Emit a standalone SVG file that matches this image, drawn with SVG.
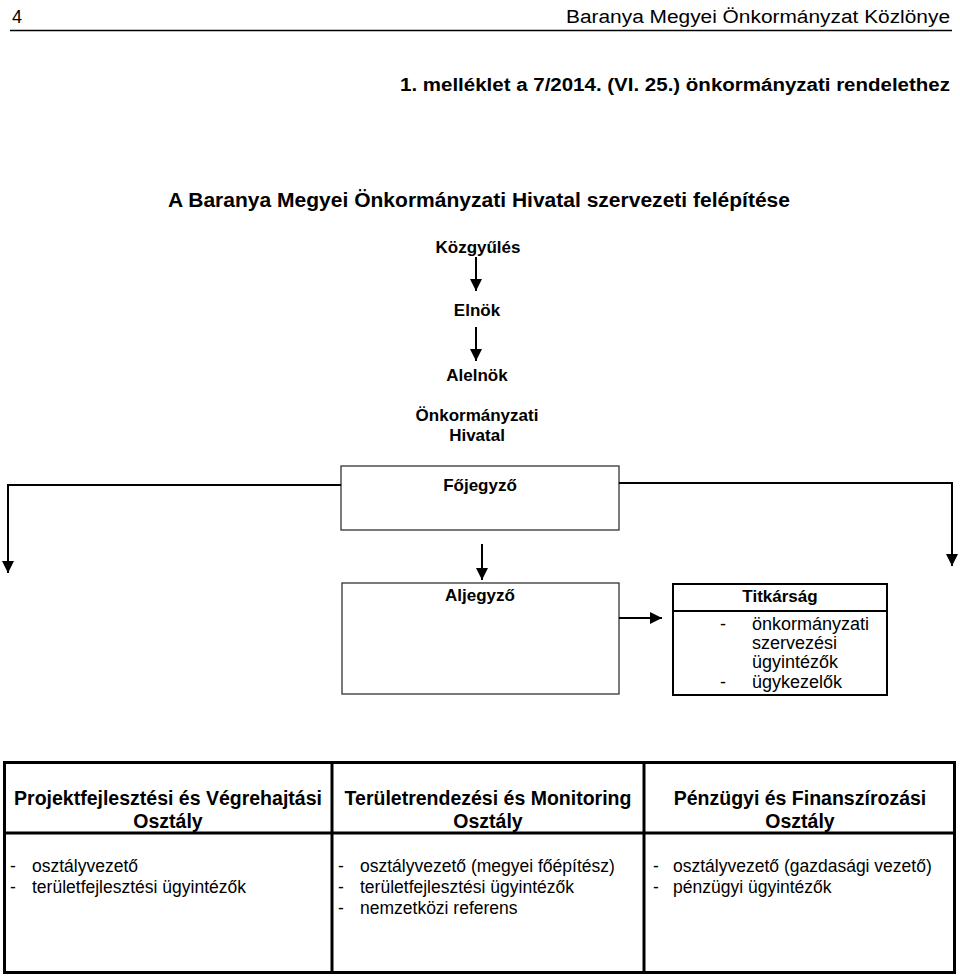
<svg xmlns="http://www.w3.org/2000/svg" width="960" height="979" viewBox="0 0 960 979">
<style>
text{font-family:"Liberation Sans",Arial,sans-serif;fill:#000}
.b{font-weight:bold;font-size:17px}
.r{font-size:17px}
.h{font-weight:bold;font-size:19.5px}
.t{font-size:17.5px}
.c{text-anchor:middle}
.box{fill:#fff;stroke:#333;stroke-width:1.3}
.tbox{fill:#fff;stroke:#000;stroke-width:2}
.tab{fill:none;stroke:#000;stroke-width:3}
.con{fill:none;stroke:#000;stroke-width:2;marker-end:url(#ah)}
</style>
<defs>
<marker id="ah" markerUnits="userSpaceOnUse" viewBox="0 0 10 10" refX="10" refY="5" markerWidth="13" markerHeight="12" orient="auto">
<path d="M0,0 L10,5 L0,10 z" fill="#000"/>
</marker>
</defs>
<rect width="960" height="979" fill="#fff"/>
<g id="header">
<text x="12" y="23" class="r" style="font-size:18px">4</text>
<text x="950" y="23" class="r" text-anchor="end" textLength="384" lengthAdjust="spacingAndGlyphs" style="font-size:18px">Baranya Megyei Önkormányzat Közlönye</text>
<line x1="10" y1="30.5" x2="952" y2="30.5" stroke="#000" stroke-width="1.6"/>
<text x="950" y="91" class="b" text-anchor="end" textLength="550" lengthAdjust="spacingAndGlyphs" style="font-size:18px">1. melléklet a 7/2014. (VI. 25.) önkormányzati rendelethez</text>
<text x="479" y="207" class="b c" textLength="622" lengthAdjust="spacingAndGlyphs" style="font-size:20px">A Baranya Megyei Önkormányzati Hivatal szervezeti felépítése</text>
</g>
<g id="kozgyules"><text x="478" y="253" class="b c">Közgyűlés</text></g>
<g id="elnok"><text x="477" y="316" class="b c">Elnök</text></g>
<g id="alelnok"><text x="477" y="381" class="b c">Alelnök</text></g>
<g id="hivatal"><text x="477" y="421" class="b c">Önkormányzati</text><text x="477" y="441" class="b c">Hivatal</text></g>
<g id="fojegyzo">
<rect x="341" y="466" width="278" height="64" class="box"/>
<text x="480" y="491" class="b c">Főjegyző</text>
</g>
<g id="aljegyzo">
<rect x="342" y="583" width="277" height="111" class="box"/>
<text x="480" y="601" class="b c">Aljegyző</text>
</g>
<g id="titkarsag">
<rect x="673" y="584" width="214" height="111" class="tbox"/>
<line x1="673" y1="611" x2="887" y2="611" stroke="#000" stroke-width="2"/>
<text x="780" y="602" class="b c">Titkárság</text>
<text x="720" y="630" class="r" style="font-size:18px">-</text>
<text x="752" y="630" class="r" style="font-size:18px">önkormányzati</text>
<text x="752" y="649" class="r" style="font-size:18px">szervezési</text>
<text x="752" y="668" class="r" style="font-size:18px">ügyintézők</text>
<text x="720" y="688" class="r" style="font-size:18px">-</text>
<text x="752" y="688" class="r" style="font-size:18px">ügykezelők</text>
</g>
<g id="osztalyok">
<rect x="4.5" y="762.5" width="950" height="210" class="tab"/>
<line x1="4.5" y1="833" x2="954.5" y2="833" stroke="#000" stroke-width="3"/>
<line x1="332" y1="762.5" x2="332" y2="972.5" stroke="#000" stroke-width="3"/>
<line x1="644" y1="762.5" x2="644" y2="972.5" stroke="#000" stroke-width="3"/>
<g id="projekt">
<text x="168" y="805" class="h c">Projektfejlesztési és Végrehajtási</text>
<text x="168" y="828" class="h c">Osztály</text>
<text x="10" y="872" class="t">-</text><text x="32" y="872" class="t">osztályvezető</text>
<text x="10" y="893" class="t">-</text><text x="32" y="893" class="t">területfejlesztési ügyintézők</text>
</g>
<g id="terulet">
<text x="488" y="805" class="h c">Területrendezési és Monitoring</text>
<text x="488" y="828" class="h c">Osztály</text>
<text x="338" y="872" class="t">-</text><text x="360" y="872" class="t">osztályvezető (megyei főépítész)</text>
<text x="338" y="893" class="t">-</text><text x="360" y="893" class="t">területfejlesztési ügyintézők</text>
<text x="338" y="914" class="t">-</text><text x="360" y="914" class="t">nemzetközi referens</text>
</g>
<g id="penzugy">
<text x="800" y="805" class="h c">Pénzügyi és Finanszírozási</text>
<text x="800" y="828" class="h c">Osztály</text>
<text x="653" y="872" class="t">-</text><text x="673" y="872" class="t">osztályvezető (gazdasági vezető)</text>
<text x="653" y="893" class="t">-</text><text x="673" y="893" class="t">pénzügyi ügyintézők</text>
</g>
</g>
<g id="connectors">
<line x1="476" y1="257" x2="476" y2="291" class="con"/>
<line x1="476" y1="327" x2="476" y2="361" class="con"/>
<line x1="482" y1="544" x2="482" y2="580" class="con"/>
<line x1="619" y1="618" x2="662" y2="618" class="con"/>
<polyline points="341,485 8,485 8,573" class="con"/>
<polyline points="619,483 952,483 952,566" class="con"/>
</g>
</svg>
